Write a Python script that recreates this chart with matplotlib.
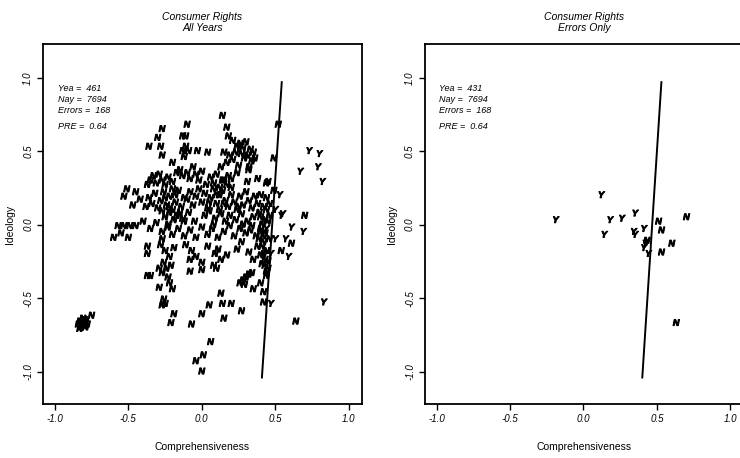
import numpy as np
import matplotlib
matplotlib.use("Agg")
import matplotlib.pyplot as plt
import matplotlib.patheffects as pe

plt.rcParams["font.family"] = ["Liberation Sans", "DejaVu Sans"]

# -----------------------------
# Data: legislator/vote positions
# -----------------------------
# All years: votes predicted "N" (nay) and "Y" (yea)
all_nay_x = [
    0.14, 0.17, -0.10, -0.11, -0.27, -0.30, -0.36, -0.28, -0.27, -0.11, -0.09, -0.12, 0.04, 0.15, -0.20, -0.03,
    0.18, 0.21, 0.24, 0.28, 0.33, 0.27, 0.31, 0.35, 0.21, 0.17, 0.13, 0.25, 0.32, 0.29, 0.23, 0.36, 0.30, 0.34, 0.26, 0.19,
    0.49, 0.52, 0.45, -0.13, -0.13,
    -0.37, -0.35, -0.33, -0.31, -0.29, -0.27, -0.25, -0.23, -0.20, -0.17, -0.15, -0.13, -0.10, -0.08, -0.06, -0.04,
    -0.02, 0.00, 0.03, 0.06, 0.08, 0.10, 0.12, 0.15, 0.17, 0.24, 0.32, 0.38, 0.44, 0.31, 0.20,
    -0.51, -0.53, -0.45, -0.42, -0.47, -0.38, -0.36, -0.34, -0.32, -0.30, -0.28, -0.26, -0.24, -0.22, -0.20, -0.18,
    -0.16, -0.14, -0.12, -0.10, -0.08, -0.06, -0.04, -0.02, 0.00, 0.02, 0.04, 0.06, 0.08, 0.10, 0.12, 0.14, 0.16,
    0.18, 0.20, 0.22, 0.24, 0.26, 0.28, 0.30, 0.32, 0.34, 0.36, 0.38, 0.40, 0.42, 0.44, 0.49,
    -0.25, -0.22, -0.19, -0.27, -0.17, -0.13, -0.09, -0.05, 0.02, 0.05, 0.09, 0.13, 0.16, 0.19, 0.23, 0.27, 0.31,
    0.35, 0.39, 0.43, 0.46,
    -0.57, -0.53, -0.49, -0.45, -0.60, -0.55, -0.50, -0.40, -0.35, -0.31, -0.27, -0.27, -0.23, -0.20, -0.16, -0.12,
    -0.08, -0.04, 0.00, 0.04, 0.07, 0.11, 0.15, 0.19, 0.22, 0.26, 0.30, 0.34, 0.37, 0.40, 0.43, 0.46, 0.41, 0.45,
    -0.37, -0.37, -0.28, -0.25, -0.22, -0.19, -0.26, -0.21, -0.11, -0.07, -0.04, -0.08, 0.04, 0.09, 0.13, 0.11, 0.17,
    0.24, 0.27, 0.32, 0.35, 0.38, 0.40, 0.42, 0.44, 0.41, 0.43, 0.45, 0.39, 0.61, 0.54, 0.70,
    -0.37, -0.35, -0.29, -0.27, -0.24, -0.23, -0.22, -0.20, -0.29, -0.08, 0.00, 0.00, 0.08, 0.10, 0.26, 0.28, 0.30,
    0.32, 0.34, 0.29, 0.35, 0.42, 0.40, 0.44,
    -0.26, -0.25, -0.27, -0.19, -0.21, -0.07, 0.00, 0.05, 0.13, 0.14, 0.20, 0.15, 0.27, 0.06, 0.01, -0.04, 0.00,
    0.42, 0.64,
    -0.84, -0.83, -0.82, -0.81, -0.80, -0.79, -0.83, -0.81, -0.78, -0.80, -0.82, -0.79, -0.75,
    # densest patches: centre band and the column along the cutting line
    0.40, 0.41, 0.42, 0.43, 0.44, 0.42, 0.40, 0.44, 0.46, 0.45,
    -0.22, -0.18, -0.25, -0.20, -0.15, -0.23, -0.12, 0.05, 0.10, 0.12, 0.15, 0.08, 0.20, 0.14, 0.18, 0.28, 0.33, 0.25,
]
all_nay_y = [
    0.74, 0.66, 0.68, 0.60, 0.65, 0.59, 0.53, 0.53, 0.47, 0.53, 0.50, 0.46, 0.49, 0.49, 0.42, 0.50,
    0.60, 0.57, 0.53, 0.52, 0.51, 0.48, 0.47, 0.49, 0.44, 0.42, 0.39, 0.40, 0.39, 0.45, 0.49, 0.45, 0.56, 0.43, 0.55, 0.47,
    0.45, 0.68, 0.29, 0.60, 0.50,
    0.27, 0.30, 0.33, 0.28, 0.34, 0.30, 0.27, 0.32, 0.29, 0.35, 0.37, 0.33, 0.35, 0.31, 0.39, 0.34,
    0.30, 0.36, 0.27, 0.32, 0.28, 0.34, 0.25, 0.30, 0.27, 0.35, 0.37, 0.31, 0.28, 0.29, 0.31,
    0.24, 0.19, 0.22, 0.17, 0.13, 0.12, 0.18, 0.14, 0.21, 0.11, 0.16, 0.22, 0.13, 0.19, 0.10, 0.15,
    0.23, 0.12, 0.18, 0.17, 0.22, 0.13, 0.19, 0.24, 0.15, 0.21, 0.11, 0.18, 0.24, 0.14, 0.20, 0.23, 0.16,
    0.12, 0.20, 0.15, 0.10, 0.19, 0.13, 0.22, 0.16, 0.11, 0.19, 0.14, 0.20, 0.12, 0.18, 0.23,
    0.05, 0.08, 0.03, 0.09, 0.06, 0.04, 0.08, 0.02, 0.06, 0.09, 0.04, 0.07, 0.02, 0.06, 0.03, 0.07, 0.02,
    0.05, 0.08, 0.03, 0.06,
    -0.01, -0.01, -0.01, -0.01, -0.09, -0.06, -0.09, 0.02, -0.03, 0.01, -0.05, -0.10, -0.02, -0.07, -0.03, -0.08,
    -0.04, -0.09, -0.02, -0.07, -0.03, -0.09, -0.05, -0.01, -0.08, -0.03, -0.06, -0.01, -0.08, -0.03, -0.06, -0.10, 0.00, 0.02,
    -0.15, -0.20, -0.14, -0.18, -0.22, -0.16, -0.26, -0.28, -0.14, -0.18, -0.22, -0.24, -0.15, -0.20, -0.24, -0.17, -0.21,
    -0.17, -0.12, -0.19, -0.24, -0.15, -0.21, -0.12, -0.18, -0.27, -0.24, -0.30, -0.10, -0.13, -0.18, 0.06,
    -0.35, -0.35, -0.30, -0.33, -0.30, -0.36, -0.40, -0.44, -0.43, -0.32, -0.31, -0.26, -0.28, -0.30, -0.40, -0.38, -0.36,
    -0.34, -0.33, -0.41, -0.44, -0.46, -0.40, -0.35,
    -0.51, -0.54, -0.55, -0.61, -0.67, -0.68, -0.61, -0.55, -0.47, -0.54, -0.54, -0.64, -0.59, -0.80, -0.89, -0.93, -1.00,
    -0.53, -0.66,
    -0.68, -0.66, -0.70, -0.67, -0.69, -0.66, -0.71, -0.64, -0.68, -0.65, -0.67, -0.70, -0.62,
    -0.05, -0.15, -0.20, -0.28, -0.32, -0.08, 0.05, 0.10, 0.14, -0.25,
    0.12, 0.20, 0.18, 0.24, 0.08, 0.00, 0.02, 0.15, 0.20, 0.10, 0.14, 0.00, 0.25, 0.30, 0.33, 0.00, -0.04, 0.12,
]
all_yea_x = [0.73, 0.80, 0.67, 0.79, 0.82, 0.53, 0.50, 0.54, 0.61, 0.69, 0.55, 0.50, 0.57, 0.59, 0.47, 0.44,
             0.47, 0.83]
all_yea_y = [0.50, 0.48, 0.36, 0.39, 0.29, 0.20, 0.10, 0.06, -0.02, -0.05, 0.07, -0.10, -0.10, -0.22, -0.20, -0.03,
             -0.54, -0.53]

# Errors only
err_yea_x = [-0.19, 0.18, 0.26, 0.35, 0.14, 0.41, 0.34, 0.35, 0.42, 0.43, 0.41, 0.44, 0.12]
err_yea_y = [0.03, 0.03, 0.04, 0.075, -0.07, -0.03, -0.05, -0.07, -0.13, -0.12, -0.16, -0.20, 0.20]
err_nay_x = [0.51, 0.53, 0.60, 0.53, 0.70, 0.63, 0.43]
err_nay_y = [0.02, -0.04, -0.13, -0.19, 0.05, -0.67, -0.11]

# Cutting line (bottom end, top end)
cut_x = [0.41, 0.545]
cut_y = [-1.04, 0.97]
err_cut_x = [0.40, 0.53]
err_cut_y = [-1.04, 0.97]

ticks = [-1.0, -0.5, 0.0, 0.5, 1.0]
tick_labels = ["-1.0", "-0.5", "0.0", "0.5", "1.0"]
stats_all = ["Yea =  461", "Nay =  7694", "Errors =  168", "PRE =  0.64"]
stats_err = ["Yea =  431", "Nay =  7694", "Errors =  168", "PRE =  0.64"]
stats_y = [0.93, 0.855, 0.775, 0.665]

# -----------------------------
# Figure
# -----------------------------
fig = plt.figure(figsize=(7.4, 4.58), dpi=100)
ax1 = fig.add_axes([0.058, 0.118, 0.431, 0.786])
ax2 = fig.add_axes([0.574, 0.118, 0.431, 0.786])

letter_kw = dict(fontsize=6.5, fontweight="bold", fontstyle="italic", ha="center", va="center",
                 path_effects=[pe.withStroke(linewidth=0.7, foreground="black")])


def setup(ax, title, stats, cx, cy):
    ax.set_xlim(-1.08, 1.09)
    ax.set_ylim(-1.22, 1.23)
    ax.set_xticks(ticks)
    ax.set_xticklabels(tick_labels, fontstyle="italic")
    ax.set_yticks(ticks)
    ax.set_yticklabels(tick_labels, rotation=90, va="center", fontstyle="italic")
    ax.tick_params(direction="out", length=4, width=1, labelsize=7, pad=3)
    for s in ax.spines.values():
        s.set_linewidth(1.3)
    ax.set_title(title, fontsize=7.5, fontstyle="italic", pad=9, linespacing=1.15)
    ax.set_xlabel("Comprehensiveness", fontsize=7.5, labelpad=13)
    ax.set_ylabel("Ideology", fontsize=7.5, labelpad=6)
    for txt, yy in zip(stats, stats_y):
        ax.text(-0.98, yy, txt, fontsize=6.5, fontstyle="italic", va="center")
    ax.plot(cx, cy, color="black", lw=1.4)


setup(ax1, "Consumer Rights\nAll Years", stats_all, cut_x, cut_y)
setup(ax2, "Consumer Rights\nErrors Only", stats_err, err_cut_x, err_cut_y)

for x, y in zip(all_nay_x, all_nay_y):
    ax1.text(x, y, "N", **letter_kw)
for x, y in zip(all_yea_x, all_yea_y):
    ax1.text(x, y, "Y", **letter_kw)
for x, y in zip(err_nay_x, err_nay_y):
    ax2.text(x, y, "N", **letter_kw)
for x, y in zip(err_yea_x, err_yea_y):
    ax2.text(x, y, "Y", **letter_kw)

fig.savefig("out.png", dpi=100)
